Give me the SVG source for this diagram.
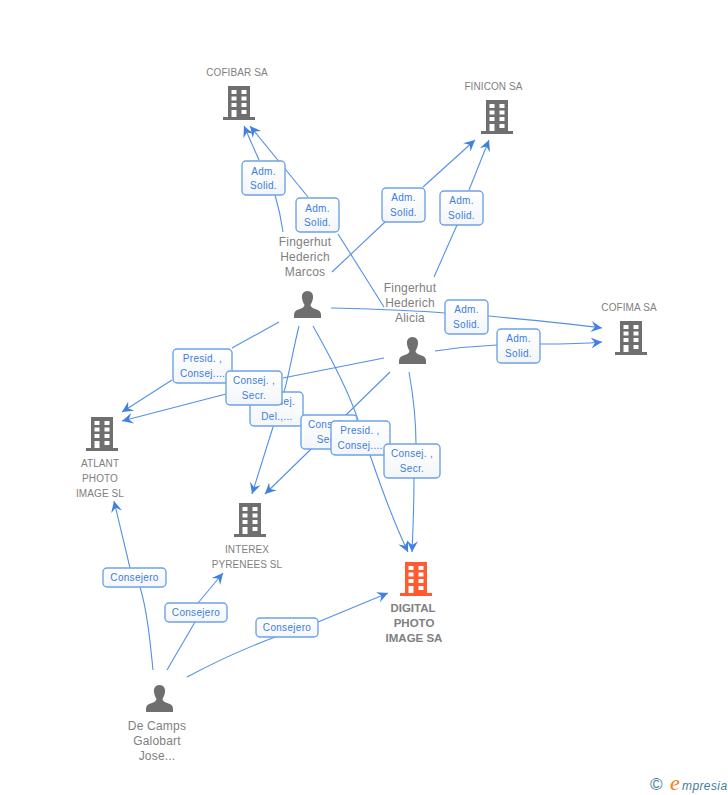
<svg xmlns="http://www.w3.org/2000/svg" width="728" height="795" viewBox="0 0 728 795">
<style>
.e{fill:none;stroke:#5590e6;stroke-width:1.1;marker-end:url(#a)}
.s{fill:none;stroke:#5590e6;stroke-width:1.1}
.b{fill:url(#g);stroke:#6fa3e8;stroke-width:1.4}
.l{font:10px "Liberation Sans",Arial,sans-serif;fill:#3b7de0;text-anchor:middle;letter-spacing:.3px}
.n{font:10px "Liberation Sans",Arial,sans-serif;fill:#808080;text-anchor:middle;letter-spacing:.1px}
.p{font:12px "Liberation Sans",Arial,sans-serif;fill:#808080;text-anchor:middle;letter-spacing:.2px}
.d{font:bold 11.500px "Liberation Sans",Arial,sans-serif;fill:#808080;text-anchor:middle}
</style>
<defs>
<linearGradient id="g" x1="0" y1="0" x2="0" y2="1"><stop offset="0" stop-color="#fff"/><stop offset="1" stop-color="#f3f5f8"/></linearGradient>
<marker id="a" markerUnits="userSpaceOnUse" markerWidth="14" markerHeight="14" refX="11" refY="6" orient="auto"><path d="M11,6 L0,0.500 L4,6 L0,11.500 Z" fill="#3f80e2"/></marker>
<path id="bp" fill-rule="evenodd" d="M-16,-3H-11V-34H11V-3H16V0H-16ZM-7.500,-30v4h5v-4ZM2.500,-30v4h5v-4ZM-7.500,-23.500v4h5v-4ZM2.500,-23.500v4h5v-4ZM-7.500,-17v4h5v-4ZM2.500,-17v4h5v-4ZM-7.500,-10v7h5v-7ZM2.500,-10v4h5v-4Z"/>
<path id="pp" d="M0,0C-4,0 -6,3 -5.500,7C-5.200,10 -4,12 -3,14C-3,16 -5,17 -9,18.500C-12,19.500 -13.500,21 -13.500,24V27H13.500V24C13.500,21 12,19.500 9,18.500C5,17 3,16 3,14C4,12 5.200,10 5.500,7C6,3 4,0 0,0Z" fill="#6f6f6f"/>
</defs>
<rect width="728" height="795" fill="#fff"/>
<g id="connectors">
<path class="s" d="M283,232C281,218 278,205 275,195"/><path class="e" d="M259,160L244,126"/>
<path class="s" d="M384,307L338,234"/><path class="e" d="M308,197L250,126"/>
<path class="s" d="M332,272L385,222"/><path class="e" d="M423,187L475,140"/>
<path class="s" d="M434,277L457,225"/><path class="e" d="M469,190L489,140"/>
<path class="s" d="M331,308C370,309 410,310 445,313"/><path class="e" d="M488,316C530,320 565,323 602,328"/>
<path class="s" d="M435,351C455,348 475,346 497,345"/><path class="e" d="M540,344C560,344 580,344 602,342"/>
<path class="s" d="M279,322L232,348"/><path class="e" d="M172,380L122,412"/>
<path class="s" d="M384,358L283,378"/><path class="e" d="M226,394L122,421"/>
<path class="e" d="M299,326C293,350 289,375 284,392L252,494"/>
<path class="e" d="M390,372L265,494"/>
<path class="s" d="M313,326C335,365 350,395 358,420"/><path class="e" d="M370,455C382,490 395,525 408,552"/>
<path class="s" d="M409,372C414,400 416,425 416,444"/><path class="e" d="M414,478C414,505 413,530 412,552"/>
<path class="s" d="M153,670C150,640 147,610 140,587"/><path class="e" d="M130,568L114,501"/>
<path class="s" d="M167,670L195,622"/><path class="e" d="M198,603L223,573"/>
<path class="s" d="M187,677C215,662 245,648 278,636"/><path class="e" d="M318,622L388,593"/>
</g>
<g id="edge-labels">
<g><rect class="b" x="242" y="161" width="43" height="34" rx="4"/><text class="l" x="263.500" y="175">Adm.</text><text class="l" x="263.500" y="189">Solid.</text></g>
<g><rect class="b" x="296" y="198" width="43" height="34" rx="4"/><text class="l" x="317.500" y="212">Adm.</text><text class="l" x="317.500" y="226">Solid.</text></g>
<g><rect class="b" x="382" y="188" width="43" height="34" rx="4"/><text class="l" x="403.500" y="201">Adm.</text><text class="l" x="403.500" y="216">Solid.</text></g>
<g><rect class="b" x="440" y="191" width="43" height="34" rx="4"/><text class="l" x="461.500" y="204">Adm.</text><text class="l" x="461.500" y="219">Solid.</text></g>
<g><rect class="b" x="445" y="300" width="43" height="34" rx="4"/><text class="l" x="466.500" y="313">Adm.</text><text class="l" x="466.500" y="328">Solid.</text></g>
<g><rect class="b" x="497" y="329" width="43" height="34" rx="4"/><text class="l" x="518.500" y="342">Adm.</text><text class="l" x="518.500" y="357">Solid.</text></g>
<g><rect class="b" x="173" y="349" width="59" height="34" rx="4"/><text class="l" x="202.500" y="362">Presid. ,</text><text class="l" x="202.500" y="377">Consej....</text></g>
<g><rect class="b" x="250" y="392" width="53" height="34" rx="4"/><text class="l" x="277" y="405">Consej.</text><text class="l" x="277" y="420">Del.,...</text></g>
<g><rect class="b" x="226" y="371" width="56" height="34" rx="4"/><text class="l" x="254" y="384">Consej. ,</text><text class="l" x="254" y="399">Secr.</text></g>
<g><rect class="b" x="301" y="415" width="56" height="34" rx="4"/><text class="l" x="329" y="428">Consej. ,</text><text class="l" x="329" y="443">Secr.</text></g>
<g><rect class="b" x="331" y="421" width="59" height="34" rx="4"/><text class="l" x="360" y="434">Presid. ,</text><text class="l" x="360" y="449">Consej....</text></g>
<g><rect class="b" x="384" y="444" width="56" height="34" rx="4"/><text class="l" x="412" y="457">Consej. ,</text><text class="l" x="412" y="472">Secr.</text></g>
<g><rect class="b" x="103" y="568" width="63" height="19" rx="4"/><text class="l" x="134.500" y="581">Consejero</text></g>
<g><rect class="b" x="165" y="603" width="62" height="19" rx="4"/><text class="l" x="196" y="616">Consejero</text></g>
<g><rect class="b" x="256" y="618" width="62" height="19" rx="4"/><text class="l" x="287" y="631">Consejero</text></g>
</g>
<g id="cofibar"><text class="n" x="237" y="76">COFIBAR SA</text><use href="#bp" x="239" y="120" fill="#6f6f6f"/></g>
<g id="finicon"><text class="n" x="493.500" y="90">FINICON SA</text><use href="#bp" x="497" y="134" fill="#6f6f6f"/></g>
<g id="cofima"><text class="n" x="629" y="311">COFIMA SA</text><use href="#bp" x="631" y="355" fill="#6f6f6f"/></g>
<g id="atlant"><use href="#bp" x="102" y="451" fill="#6f6f6f"/><text class="n" x="100" y="467">ATLANT</text><text class="n" x="100" y="482">PHOTO</text><text class="n" x="100" y="497">IMAGE SL</text></g>
<g id="interex"><use href="#bp" x="250" y="537" fill="#6f6f6f"/><text class="n" x="247" y="553">INTEREX</text><text class="n" x="247" y="568">PYRENEES SL</text></g>
<g id="digital"><use href="#bp" x="416" y="596" fill="#ff5a30"/><text class="d" x="413" y="612">DIGITAL</text><text class="d" x="414" y="627">PHOTO</text><text class="d" x="414" y="642">IMAGE SA</text></g>
<g id="marcos"><text class="p" x="305" y="246">Fingerhut</text><text class="p" x="305" y="261">Hederich</text><text class="p" x="305" y="276">Marcos</text><use href="#pp" x="307.500" y="291"/></g>
<g id="alicia"><text class="p" x="410" y="292">Fingerhut</text><text class="p" x="410" y="307">Hederich</text><text class="p" x="410" y="322">Alicia</text><use href="#pp" x="412.500" y="337"/></g>
<g id="decamps"><use href="#pp" x="159.500" y="685"/><text class="p" x="157" y="730">De Camps</text><text class="p" x="157" y="745">Galobart</text><text class="p" x="157" y="760">Jose...</text></g>
<g id="logo"><text x="650" y="790" font-family="'Liberation Sans',sans-serif" font-size="17" fill="#3f7f97">©</text><text x="670" y="790" font-family="'Liberation Serif',serif" font-size="22" font-style="italic" fill="#f08010">e</text><text x="682" y="790" font-family="'Liberation Sans',sans-serif" font-size="12" font-style="italic" letter-spacing=".4" fill="#3f7f97">mpresia</text></g>
</svg>
